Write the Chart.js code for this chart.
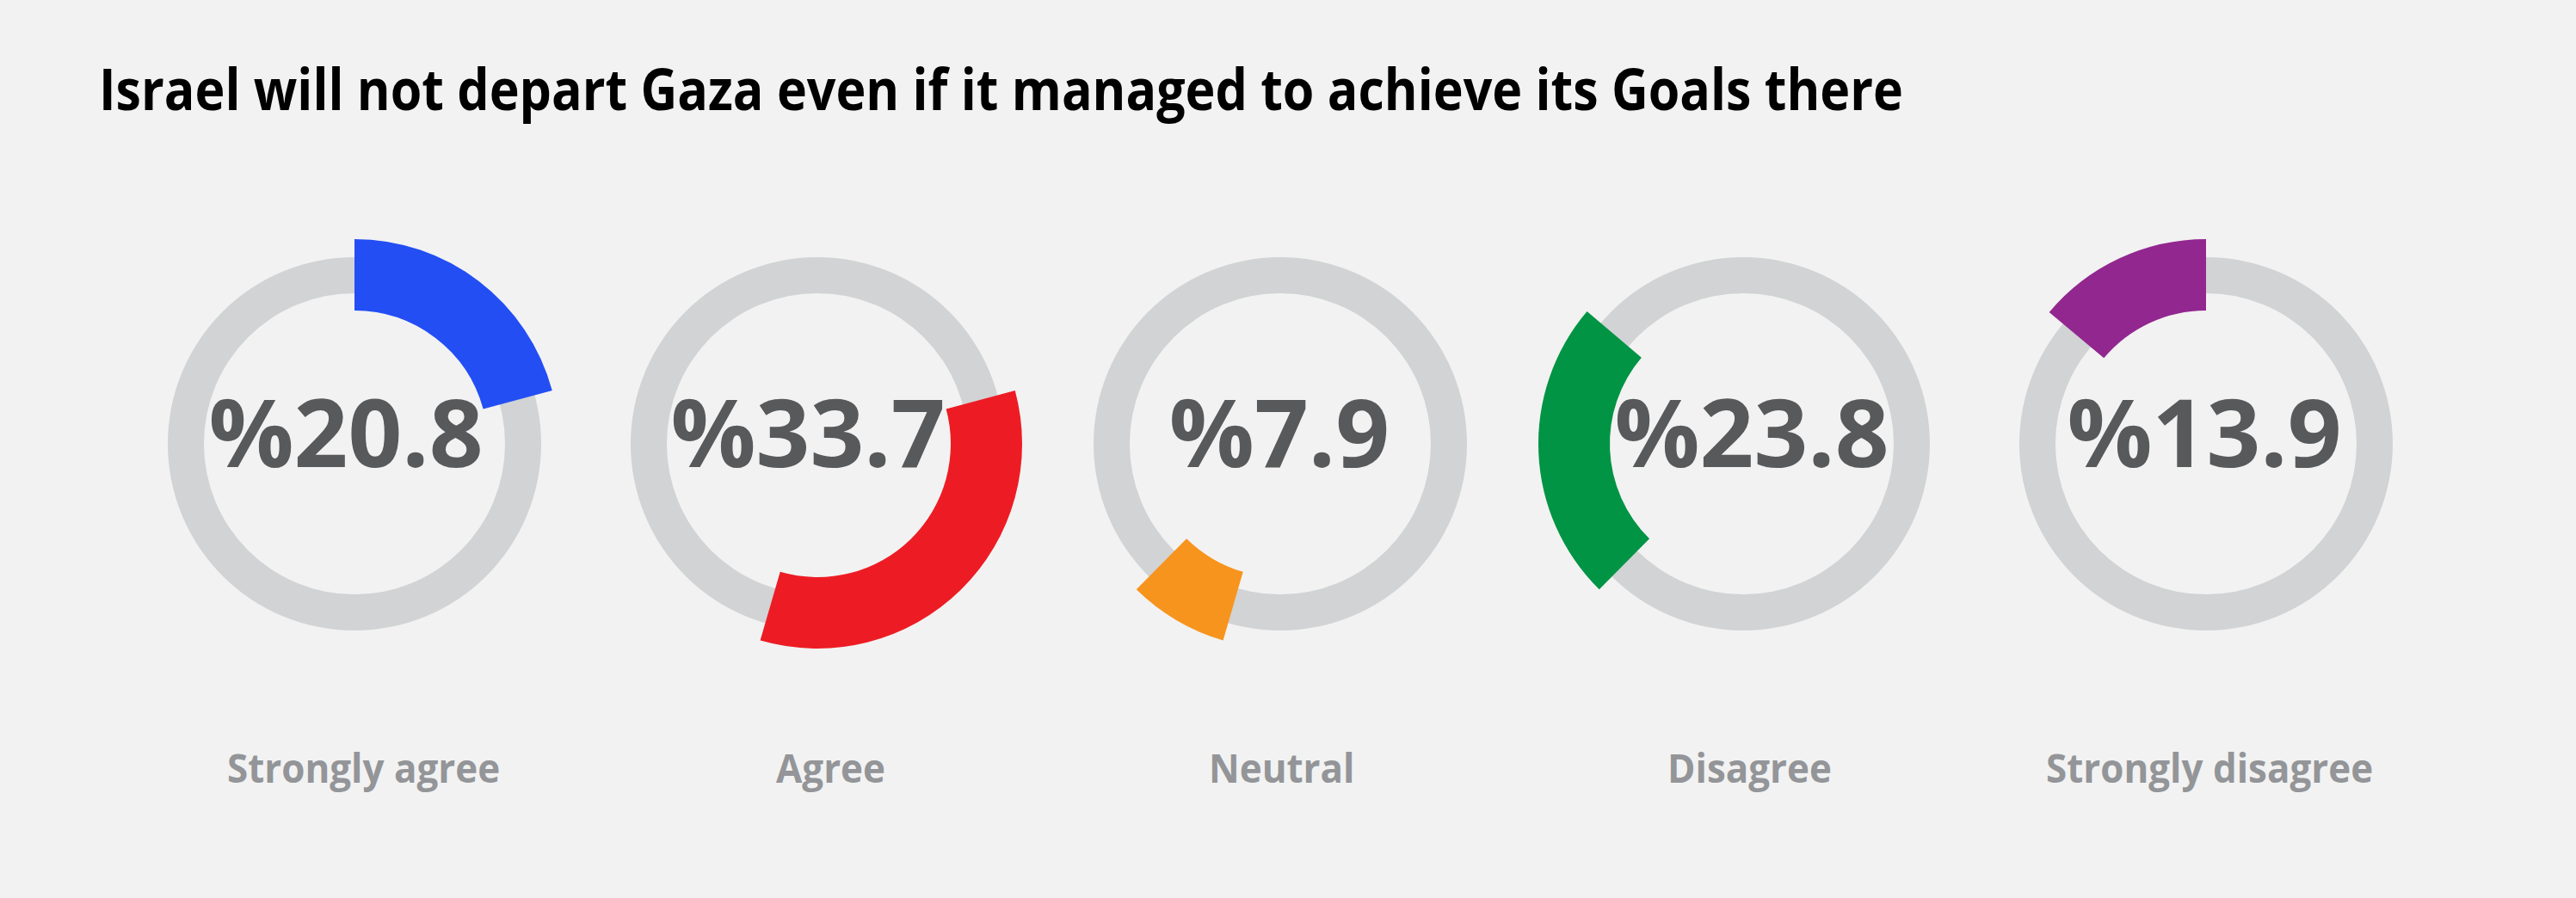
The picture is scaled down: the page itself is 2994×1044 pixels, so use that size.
<!DOCTYPE html>
<html>
<head>
<meta charset="utf-8">
<script src="https://cdn.jsdelivr.net/npm/chart.js@4/dist/chart.umd.min.js"></script>
<style>
  html, body { margin: 0; padding: 0; background: #f2f2f2; }
  #stage { position: relative; width: 2994px; height: 1044px; background: #f2f2f2; overflow: hidden; }
  .txt { position: absolute; white-space: nowrap; line-height: 1; font-family: 'Open Sans', 'Noto Sans', sans-serif; font-weight: 700; transform-origin: 0 0; }
  canvas.g { position: absolute; }
</style>
</head>
<body>
<div id="stage"></div>
<script>
// ---- data ----
const title = 'Israel will not depart Gaza even if it managed to achieve its Goals there';
const categories = ['Strongly agree', 'Agree', 'Neutral', 'Disagree', 'Strongly disagree'];
const values = [20.8, 33.7, 7.9, 23.8, 13.9];
const colors = ['#234ef4', '#ed1c24', '#f7941e', '#009444', '#92278f'];

// ---- layout (positions / sizes only) ----
const ringCenterX = [412, 950, 1488, 2026, 2564];
const ringCenterY = 516;
const valueTextX = [402, 939, 1487, 2036, 2562];
const labelTextX = [423, 965, 1490, 2033, 2568];
const greyOuter = 217, greyInner = 175;
const colOuter = 238, colInner = 155;
const canvasSize = 500;
const labelScaleX = 0.955;

const stage = document.getElementById('stage');

// cumulative start of each arc (arcs follow each other round the circle)
const starts = [];
values.reduce((acc, v, i) => { starts[i] = acc; return acc + v; }, 0);
const total = 100;

function makeCanvas(cx) {
  const c = document.createElement('canvas');
  c.className = 'g';
  c.width = canvasSize; c.height = canvasSize;
  c.style.width = canvasSize + 'px'; c.style.height = canvasSize + 'px';
  c.style.left = (cx - canvasSize / 2) + 'px';
  c.style.top = (ringCenterY - canvasSize / 2) + 'px';
  stage.appendChild(c);
  return c;
}

const baseOpts = (outer, inner) => ({
  responsive: false,
  animation: false,
  devicePixelRatio: 1,
  events: [],
  radius: outer,
  cutout: (inner / outer * 100) + '%',
  layout: { padding: 0 },
  plugins: { legend: { display: false }, tooltip: { enabled: false }, title: { display: false } },
  elements: { arc: { borderWidth: 0, hoverBorderWidth: 0, hoverOffset: 0, offset: 0 } }
});

categories.forEach((cat, i) => {
  // grey full ring
  new Chart(makeCanvas(ringCenterX[i]), {
    type: 'doughnut',
    data: { labels: ['all'], datasets: [{ data: [total], backgroundColor: ['#d1d3d4'], borderWidth: 0 }] },
    options: baseOpts(greyOuter, greyInner)
  });
  // coloured arc
  const before = starts[i];
  const after = total - starts[i] - values[i];
  new Chart(makeCanvas(ringCenterX[i]), {
    type: 'doughnut',
    data: {
      labels: ['', cat, ''],
      datasets: [{
        data: [before, values[i], Math.max(after, 0)],
        backgroundColor: ['rgba(0,0,0,0)', colors[i], 'rgba(0,0,0,0)'],
        borderWidth: 0
      }]
    },
    options: baseOpts(colOuter, colInner)
  });
});

// ---- texts ----
const texts = [];
function addText(str, opts) {
  const d = document.createElement('div');
  d.className = 'txt';
  d.textContent = str;
  d.style.fontSize = opts.size + 'px';
  d.style.color = opts.color;
  stage.appendChild(d);
  texts.push({ el: d, opts });
}

addText(title, { size: 66, color: '#000000', x: 115, baseline: 128, align: 'left', width: 2097 });
values.forEach((v, i) => {
  addText('%' + v.toFixed(1), { size: 110, color: '#58595b', x: valueTextX[i], baseline: 543, align: 'center' });
});
categories.forEach((c, i) => {
  addText(c, { size: 46, color: '#939598', x: labelTextX[i], baseline: 910, align: 'center', scale: labelScaleX });
});

function layoutTexts() {
  texts.forEach(({ el, opts }) => {
    el.style.transform = 'none';
    el.style.left = '0px'; el.style.top = '0px';
    let probe = el.querySelector('.probe');
    if (!probe) {
      probe = document.createElement('span');
      probe.className = 'probe';
      probe.style.display = 'inline-block';
      probe.style.width = '0px';
      probe.style.height = '0px';
      probe.style.verticalAlign = 'baseline';
      el.appendChild(probe);
    }
    const baseOff = probe.offsetTop;
    const w = el.getBoundingClientRect().width;
    let scale = opts.scale || 1;
    if (opts.width) scale = opts.width / w;
    const drawnW = w * scale;
    const left = opts.align === 'center' ? opts.x - drawnW / 2 : opts.x;
    el.style.left = left + 'px';
    el.style.top = (opts.baseline - baseOff) + 'px';
    if (scale !== 1) el.style.transform = 'scaleX(' + scale + ')';
  });
}
layoutTexts();
if (document.fonts && document.fonts.ready) document.fonts.ready.then(layoutTexts);
</script>
</body>
</html>
